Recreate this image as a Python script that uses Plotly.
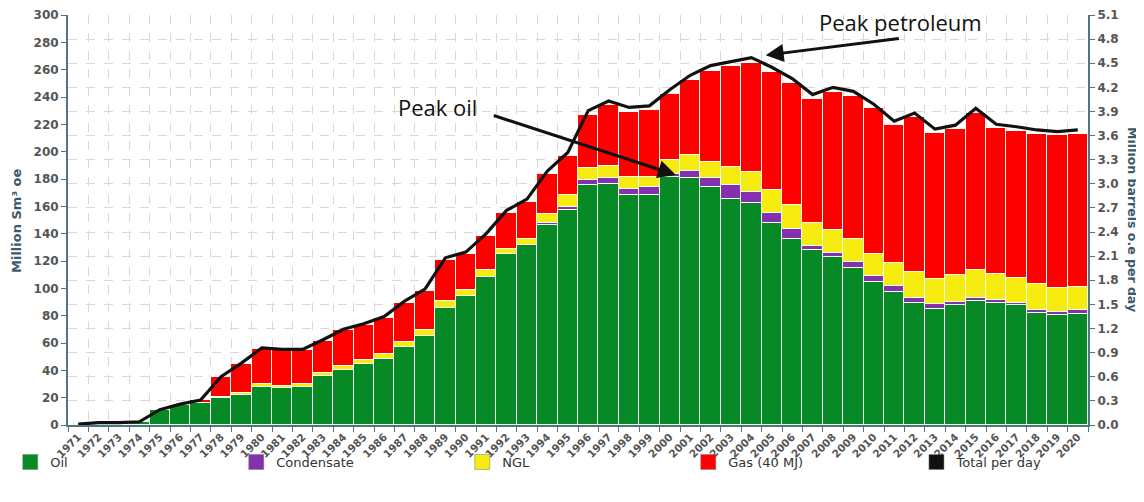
import plotly.graph_objects as go

years = list(range(1971, 2021))
oil = [0.4, 1.7, 1.7, 1.9, 11.0, 14.8, 16.0, 19.9, 22.3, 27.7,
       27.1, 27.7, 35.5, 40.4, 44.3, 48.5, 57.0, 64.8, 85.8, 94.1,
       108.3, 124.9, 131.5, 146.2, 157.1, 175.5, 176.2, 168.1, 168.1, 181.6,
       180.4, 173.8, 165.7, 162.8, 147.9, 136.4, 127.8, 123.0, 115.1, 104.6,
       97.3, 89.2, 85.1, 87.5, 90.7, 89.2, 87.5, 81.9, 80.2, 81.5]
condensate = [0, 0, 0, 0, 0, 0, 0, 0, 0, 0,
              0, 0, 0, 0, 0, 0, 0, 0, 0, 0,
              0, 0, 0, 1.7, 2.5, 3.6, 4.9, 4.9, 5.7, 2.4,
              5.5, 6.6, 9.8, 7.8, 7.3, 7.3, 3.0, 3.1, 4.2, 4.2,
              4.2, 4.0, 3.7, 2.5, 2.5, 2.0, 1.7, 2.5, 2.4, 2.4]
ngl = [0, 0, 0, 0, 0, 0, 0, 0.3, 1.0, 2.0,
       1.8, 2.0, 2.4, 2.7, 3.0, 3.6, 3.7, 4.4, 4.9, 4.9,
       4.9, 4.2, 4.9, 6.8, 8.5, 8.6, 8.3, 8.6, 7.8, 9.8,
       11.5, 12.1, 13.4, 14.6, 16.6, 17.1, 17.1, 16.9, 16.6, 16.1,
       17.3, 18.8, 17.8, 19.5, 20.0, 19.6, 18.6, 18.5, 17.9, 17.1]
gas = [0, 0, 0, 0, 0, 0, 2.0, 14.8, 21.5, 26.1,
       25.7, 24.9, 23.8, 26.2, 25.6, 26.4, 28.6, 28.8, 29.8, 25.9,
       24.9, 26.1, 26.8, 28.8, 28.6, 39.0, 44.7, 47.6, 48.8, 48.3,
       55.0, 66.7, 73.7, 79.9, 86.7, 89.2, 90.4, 100.8, 104.8, 106.7,
       100.6, 113.1, 107.2, 106.8, 115.2, 106.2, 107.4, 109.9, 111.6, 111.8]
total_per_day = [0.01, 0.03, 0.03, 0.04, 0.19, 0.26, 0.31, 0.60, 0.77, 0.96,
                 0.94, 0.94, 1.06, 1.19, 1.26, 1.35, 1.54, 1.69, 2.08, 2.15,
                 2.38, 2.67, 2.81, 3.16, 3.39, 3.91, 4.03, 3.95, 3.97, 4.17,
                 4.35, 4.47, 4.52, 4.57, 4.45, 4.31, 4.11, 4.20, 4.15, 3.99,
                 3.78, 3.88, 3.68, 3.73, 3.94, 3.74, 3.71, 3.67, 3.65, 3.67]

left_ticks = list(range(0, 301, 20))
right_ticks = [round(i * 0.3, 1) for i in range(18)]

GREEN = "#078A26"
PURPLE = "#8530AE"
YELLOW = "#F6EC0F"
RED = "#FF0000"
BLACK = "#111111"
AXIS = "#4E7486"
TICKC = "#555555"

series = [("Oil", oil, GREEN), ("Condensate", condensate, PURPLE),
          ("NGL", ngl, YELLOW), ("Gas (40 MJ)", gas, RED)]

fig = go.Figure()
for name, vals, col in series:
    fig.add_trace(go.Bar(x=years, y=vals, name=name, showlegend=False,
                         marker=dict(color=col, line=dict(color="#F4FFF4", width=1.5)),
                         yaxis="y"))
fig.add_trace(go.Scatter(x=years, y=total_per_day, name="Total per day", mode="lines",
                         line=dict(color=BLACK, width=3.2), yaxis="y2", showlegend=False))
# legend entries (square swatches)
for name, col in [(s[0], s[2]) for s in series]:
    fig.add_trace(go.Scatter(x=[None], y=[None], mode="markers", name=name, legend="legend",
                             marker=dict(symbol="square", size=15, color=col,
                                         line=dict(color="#777777", width=0.5))))
fig.add_trace(go.Scatter(x=[None], y=[None], mode="markers", name="Total per day", legend="legend2",
                         marker=dict(symbol="square", size=15, color=BLACK,
                                     line=dict(color="#777777", width=0.5))))

legend_common = dict(orientation="h", xref="container", yref="container", xanchor="left",
                     y=0.081, yanchor="middle", bgcolor="rgba(0,0,0,0)", itemsizing="trace",
                     entrywidthmode="pixels", traceorder="normal",
                     font=dict(size=13, color="#333333", family="DejaVu Sans"))

fig.update_layout(
    width=1136, height=494,
    margin=dict(l=60, r=56, t=7, b=77),
    barmode="stack", bargap=0,
    plot_bgcolor="white", paper_bgcolor="white",
    font=dict(family="DejaVu Sans", color=TICKC),
    xaxis=dict(range=[1970.5, 2020.5], tickvals=years, ticktext=[str(y) for y in years],
               tickangle=-45, ticks="", showgrid=False, showline=True, linecolor=AXIS, linewidth=1.5,
               automargin=False,
               tickfont=dict(size=10.5, color=TICKC, weight="bold"),
               minor=dict(tick0=1970.5, dtick=1, ticks="outside", ticklen=5, tickcolor=AXIS,
                          showgrid=True, gridcolor="#D8D8D8", griddash="dash", gridwidth=1)),
    yaxis=dict(range=[0, 300], tickvals=left_ticks, showgrid=False, zeroline=False, automargin=False,
               showline=True, linecolor=AXIS, linewidth=2, ticks="outside", ticklen=5, tickcolor=AXIS,
               tickfont=dict(size=12, color=TICKC, weight="bold")),
    yaxis2=dict(range=[0, 5.1], tickvals=right_ticks, tickformat=".1f", overlaying="y", side="right",
                showgrid=True, gridcolor="#D8D8D8", griddash="dash", gridwidth=1, zeroline=False,
                automargin=False,
                showline=True, linecolor=AXIS, linewidth=2, ticks="outside", ticklen=5, tickcolor=AXIS,
                tickfont=dict(size=12, color=TICKC, weight="bold")),
    legend=dict(legend_common, x=0.002, entrywidth=181),
    legend2=dict(legend_common, x=0.7997, entrywidth=181),
    showlegend=True,
)

fig.add_annotation(text="Million Sm³ oe", xref="paper", yref="paper", x=-0.051, y=0.5,
                   xanchor="center", yanchor="middle",
                   textangle=-90, showarrow=False, font=dict(size=13, color="#3D5A6C", weight="bold"))
fig.add_annotation(text="Million barrels o.e per day", xref="paper", yref="paper", x=1.044, y=0.5,
                   xanchor="center", yanchor="middle",
                   textangle=90, showarrow=False, font=dict(size=12.5, color="#3D5A6C", weight="bold"))

# Peak petroleum
fig.add_annotation(text="Peak petroleum", xref="x", yref="y2", x=2011.3, y=5.013, showarrow=False,
                   font=dict(family="Open Sans", size=22, color="#111111"))
fig.add_annotation(text="", xref="x", yref="y2", x=2004.7, y=4.6, axref="x", ayref="y2", ax=2011.3, ay=4.81,
                   showarrow=True, arrowhead=2, arrowsize=1.2, arrowwidth=3, arrowcolor="#111111")
# Peak oil
fig.add_annotation(text="Peak oil", xref="x", yref="y", x=1988.6, y=233, showarrow=False,
                   font=dict(family="Open Sans", size=22, color="#111111"))
fig.add_annotation(text="", xref="x", yref="y", x=2000.3, y=183, axref="x", ayref="y", ax=1991.3, ay=226.8,
                   showarrow=True, arrowhead=2, arrowsize=1.2, arrowwidth=3, arrowcolor="#111111")

fig.write_html("out.html")
